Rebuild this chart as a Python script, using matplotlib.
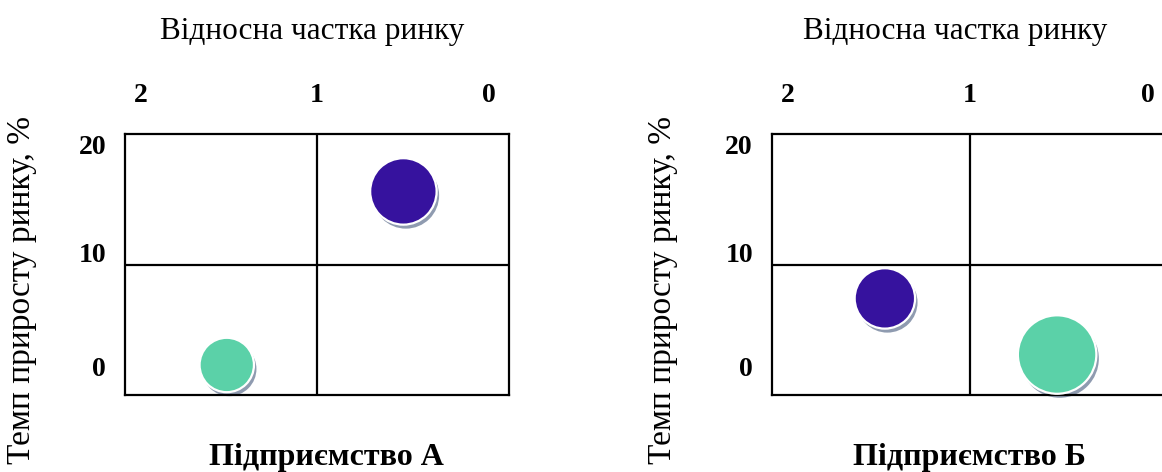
import matplotlib.pyplot as plt
from matplotlib.transforms import offset_copy, blended_transform_factory

plt.rcParams['font.family'] = ['Liberation Serif', 'DejaVu Serif']

# data
x_ticks = [2, 1, 0]
y_ticks = [20, 10, 0]
x_title = 'Відносна частка ринку'
y_title = 'Темп приросту ринку, %'

firms = ['Підприємство А', 'Підприємство Б']
share_a = [0.55, 1.47]      # relative market share
growth_a = [15.6, 2.3]      # market growth, %
volume_a = [10.9, 7.3]      # bubble size (sales volume)
share_b = [1.43, 0.56]
growth_b = [7.4, 3.1]
volume_b = [9.0, 15.2]
colors = ['#36129e', '#5bd1a8']

W, H = 1162, 472
fig = plt.figure(figsize=(W / 100, H / 100), dpi=100)


def px(v):
    return v * 0.72  # pixels -> points at dpi 100


def draw_panel(left, width, share, growth, volume, firm, title_x, xlab_x, ylab_x):
    ax = fig.add_axes([left / W, (H - 395) / H, width / W, 261 / H])
    ax.set_xlim(2, 0)
    ax.set_ylim(0, 20)
    ax.set_xticks([])
    ax.set_yticks([])
    for s in ax.spines.values():
        s.set_linewidth(1.6)
    ax.axvline(1, color='black', lw=1.6, zorder=1)
    ax.axhline(10, color='black', lw=1.6, zorder=1)

    sizes = [v * 210 for v in volume]
    shadow = offset_copy(ax.transData, fig=fig, x=px(2.5), y=-px(4), units='points')
    ax.scatter(share, growth, s=sizes, color='#8f9bb0', edgecolor='none',
               transform=shadow, zorder=2, clip_on=False)
    ax.scatter(share, growth, s=sizes, color=colors, edgecolor='white',
               linewidth=1.6, zorder=3, clip_on=False)

    # tick labels
    tx = blended_transform_factory(ax.transData, ax.transAxes)
    x_off = {2: 16, 1: 0, 0: -20}
    for v in x_ticks:
        ax.annotate(str(v), xy=(v, 1), xycoords=tx, xytext=(px(x_off[v]), px(39)),
                    textcoords='offset points', ha='center', va='center',
                    fontsize=20, fontweight='bold', annotation_clip=False)
    ty = blended_transform_factory(ax.transAxes, ax.transData)
    y_off = {20: -14, 10: 9, 0: 26}
    for v in y_ticks:
        ax.annotate(str(v), xy=(0, v), xycoords=ty, xytext=(-px(19), px(y_off[v])),
                    textcoords='offset points', ha='right', va='center',
                    fontsize=20, fontweight='bold', annotation_clip=False)

    fig.text(title_x / W, 1 - 31 / H, x_title, ha='center', va='center', fontsize=22.5)
    fig.text(xlab_x / W, 1 - 457 / H, firm, ha='center', va='center',
             fontsize=23, fontweight='bold')
    fig.text(ylab_x / W, 1 - 116 / H, y_title, ha='center', va='top',
             rotation=90, fontsize=24)


draw_panel(125, 384, share_a, growth_a, volume_a, firms[0], 312, 326, 22)
draw_panel(772, 396, share_b, growth_b, volume_b, firms[1], 955, 969, 663)

fig.savefig('out.png', dpi=100, facecolor='white')
